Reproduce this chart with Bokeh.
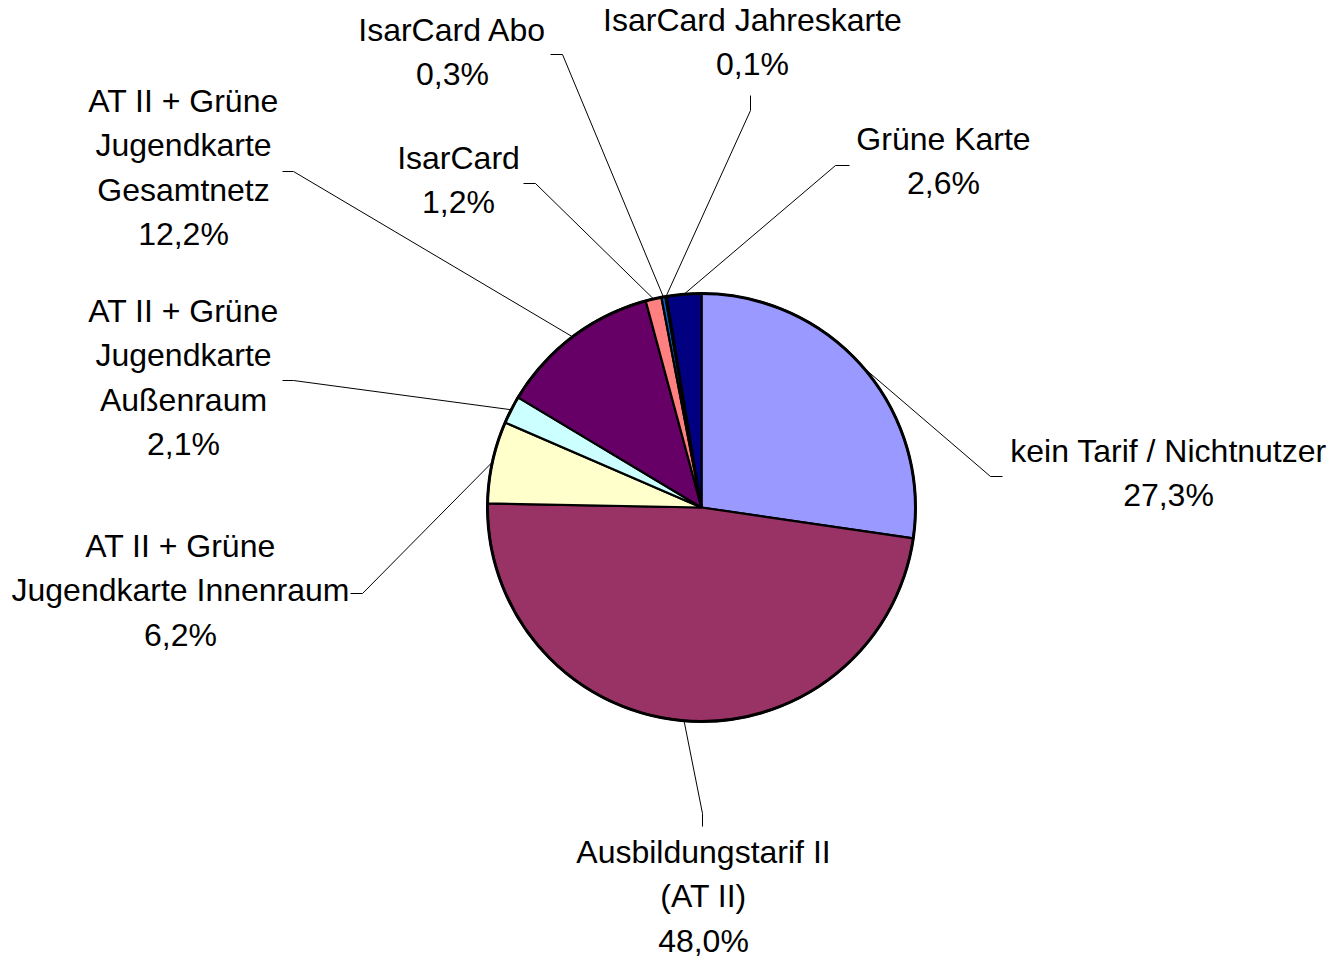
import math
from bokeh.plotting import figure
from bokeh.models import Range1d, ColumnDataSource
from bokeh.core.properties import value
from bokeh.embed import file_html
from bokeh.resources import INLINE

# ---- data ----
categories = [
    "kein Tarif / Nichtnutzer",
    "Ausbildungstarif II\n(AT II)",
    "AT II + Grüne\nJugendkarte Innenraum",
    "AT II + Grüne\nJugendkarte\nAußenraum",
    "AT II + Grüne\nJugendkarte\nGesamtnetz",
    "IsarCard",
    "IsarCard Abo",
    "IsarCard Jahreskarte",
    "Grüne Karte",
]
shares = [27.3, 48.0, 6.2, 2.1, 12.2, 1.2, 0.3, 0.1, 2.6]
colors = ["#9999FF", "#993366", "#FFFFCC", "#CCFFFF", "#660066",
          "#FF8080", "#0066CC", "#CCCCFF", "#000080"]

# ---- layout (page pixel coordinates) ----
W, H = 1334, 960
CX, CY, R = 701, 507, 214
label_pos = [(1168, 450), (703, 851), (180, 545), (183, 310), (183, 100),
             (458, 157), (452, 29), (752, 19), (943, 138)]
elbows = [[(1002, 476), (990, 476)], [(702, 826), (702, 813)],
          [(350, 593), (362, 593)], [(282, 380), (293, 380)],
          [(282, 171), (293, 171)], [(523, 183), (535, 183)],
          [(550, 54), (562, 54)], [(750, 95), (750, 110)],
          [(849, 165), (835, 165)]]
LINE_H = 44.5


def Y(py):
    return 960 - py


p = figure(width=W, height=H, output_backend="svg", toolbar_location=None,
           x_range=Range1d(0, W), y_range=Range1d(960 - H, 960),
           min_border=0, outline_line_color=None, background_fill_color="white")
p.axis.visible = False
p.grid.visible = False

total = sum(shares)
starts, ends, mids = [], [], []
cum = 0.0
for v in shares:
    f0 = cum / total
    cum += v
    f1 = cum / total
    starts.append(math.pi / 2 - 2 * math.pi * f1)
    ends.append(math.pi / 2 - 2 * math.pi * f0)
    mids.append(2 * math.pi * (f0 + f1) / 2)

# leader lines
xs, ys = [], []
for i, m in enumerate(mids):
    ex = CX + R * math.sin(m)
    ey = CY - R * math.cos(m)
    pts = elbows[i] + [(ex, ey)]
    xs.append([q[0] for q in pts])
    ys.append([Y(q[1]) for q in pts])
p.multi_line(xs, ys, line_color="black", line_width=1)

# wedges
src = ColumnDataSource(dict(x=[CX] * len(shares), y=[Y(CY)] * len(shares),
                            start=starts, end=ends, color=colors))
p.wedge(x="x", y="y", radius=R, start_angle="start", end_angle="end",
        direction="anticlock", fill_color="color", line_color="black",
        line_width=2.2, source=src)
p.circle(x=[CX], y=[Y(CY)], radius=R, fill_color=None, line_color="black",
         line_width=3)

# labels
tx, ty, tt = [], [], []
for i, (cat, v) in enumerate(zip(categories, shares)):
    lines = cat.split("\n") + [f"{v:.1f}".replace(".", ",") + "%"]
    lx, ly = label_pos[i]
    for j, ln in enumerate(lines):
        tx.append(lx)
        ty.append(Y(ly + j * LINE_H))
        tt.append(ln)
p.text(x=tx, y=ty, text=tt, text_align="center", text_baseline="middle",
       text_font=value("Liberation Sans"), text_font_size="32px",
       text_color="black")

open("out.html", "w").write(file_html(p, INLINE))
